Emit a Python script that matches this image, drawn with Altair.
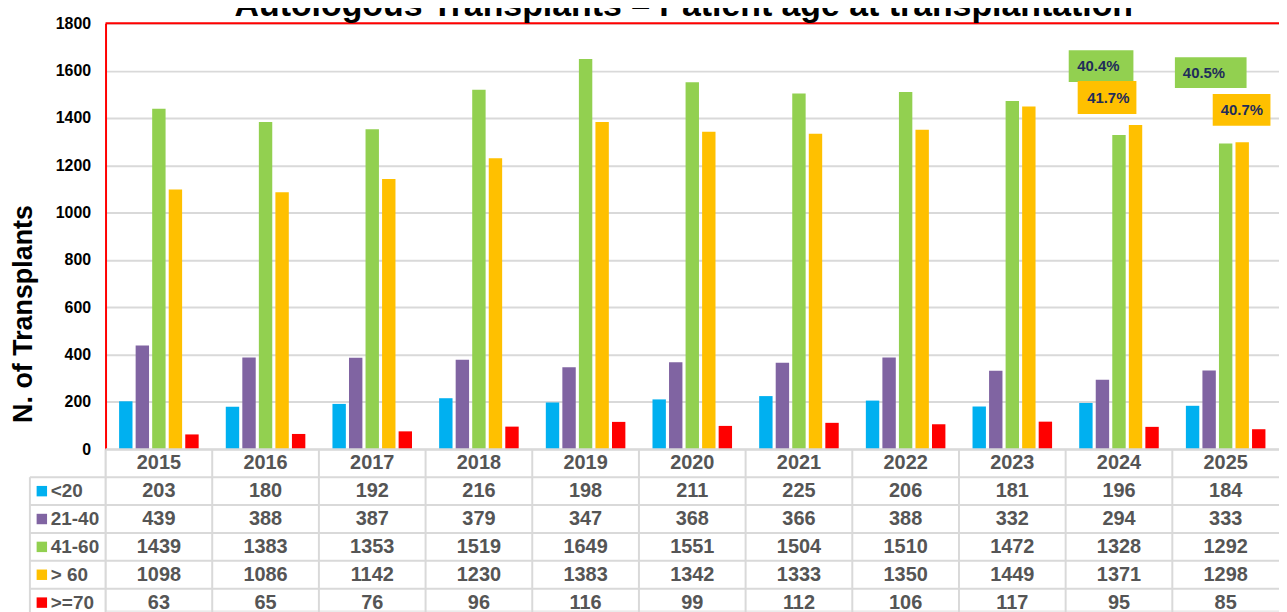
import altair as alt
import pandas as pd

# ---------------- data ----------------
years = [str(y) for y in range(2015, 2026)]
groups = ["<20", "21-40", "41-60", "> 60", ">=70"]
colors = ["#00B0F0", "#8064A2", "#92D050", "#FFC000", "#FF0000"]

v_lt20 = [203, 180, 192, 216, 198, 211, 225, 206, 181, 196, 184]
v_21_40 = [439, 388, 387, 379, 347, 368, 366, 388, 332, 294, 333]
v_41_60 = [1439, 1383, 1353, 1519, 1649, 1551, 1504, 1510, 1472, 1328, 1292]
v_gt60 = [1098, 1086, 1142, 1230, 1383, 1342, 1333, 1350, 1449, 1371, 1298]
v_ge70 = [63, 65, 76, 96, 116, 99, 112, 106, 117, 95, 85]

y_ticks = [0, 200, 400, 600, 800, 1000, 1200, 1400, 1600, 1800]

title_text = "Autologous Transplants \u2013 Patient age at transplantation"
y_title = "N. of Transplants"

ann_years = ["2024", "2024", "2025", "2025"]
ann_text = ["40.4%", "41.7%", "40.5%", "40.7%"]
ann_group = ["41-60", "> 60", "41-60", "> 60"]
ann_lo = [1552, 1417, 1527, 1367]
ann_hi = [1686, 1556, 1657, 1501]

# ---------------- tables ----------------
series = [v_lt20, v_21_40, v_41_60, v_gt60, v_ge70]
rows = []
for g, vals in zip(groups, series):
    for y, v in zip(years, vals):
        rows.append({"year": y, "group": g, "value": v})
df = pd.DataFrame(rows)
df_years = pd.DataFrame({"year": years, "row": ["hdr"] * len(years)})
df_groups = pd.DataFrame({"group": groups})
df_ann = pd.DataFrame({"year": ann_years, "text": ann_text, "group": ann_group,
                       "lo": ann_lo, "hi": ann_hi})

# ---------------- layout ----------------
FONT = "Liberation Sans"
W = 1179
PH = 428          # bar plot height
ROW = 28          # table row height
H = 590
GRID = "#d9d9d9"
TXT = "#555555"

xscale = alt.Scale(domain=years, paddingInner=0, paddingOuter=0)
yscale = alt.Scale(domain=[0, 1800], range=[PH, 0], nice=False, zero=True)
tscale = alt.Scale(domain=["hdr"] + groups, range=[PH, PH + 6 * ROW],
                   paddingInner=0, paddingOuter=0)
cscale = alt.Scale(domain=groups, range=colors)

base = alt.Chart(df)

bars = base.mark_bar().encode(
    x=alt.X("year:N", scale=xscale, axis=None),
    xOffset=alt.XOffset("group:N", scale=alt.Scale(domain=groups, paddingInner=0.19, paddingOuter=0.82)),
    y=alt.Y("value:Q", scale=yscale,
            axis=alt.Axis(values=y_ticks, format="d", grid=True, gridColor=GRID, gridWidth=2,
                          ticks=False, domainColor="#ff0000", domainWidth=2,
                          labelFont=FONT, labelFontSize=16, labelFontWeight="bold",
                          labelColor="black", labelPadding=15, title=None)),
    color=alt.Color("group:N", scale=cscale, legend=None),
)

top_rule = alt.Chart(df_years.head(1)).mark_rule(color="#ff0000", strokeWidth=2).encode(
    y=alt.value(0), x=alt.value(0), x2=alt.value(W)
)

# table grid
hdr_line = alt.Chart(df_years.head(1)).mark_rule(color=GRID, strokeWidth=2).encode(
    y=alt.Y("row:N", scale=tscale, axis=None, bandPosition=0),
    x=alt.value(0), x2=alt.value(W),
)
row_lines = alt.Chart(df_groups).mark_rule(color=GRID, strokeWidth=2).encode(
    y=alt.Y("group:N", scale=tscale, axis=None, bandPosition=0),
    x=alt.value(-76), x2=alt.value(W),
)
col_lines = alt.Chart(df_years).mark_rule(color=GRID, strokeWidth=2).encode(
    x=alt.X("year:N", scale=xscale, axis=None, bandPosition=0),
    y=alt.value(PH), y2=alt.value(PH + 6 * ROW),
)
left_line = alt.Chart(df_years.head(1)).mark_rule(color=GRID, strokeWidth=2).encode(
    x=alt.value(-76), y=alt.value(PH + ROW), y2=alt.value(PH + 6 * ROW),
)

# table text
nums = base.mark_text(font=FONT, fontSize=20, fontWeight="bold", color=TXT).encode(
    x=alt.X("year:N", scale=xscale, axis=None),
    y=alt.Y("group:N", scale=tscale, axis=None),
    text=alt.Text("value:Q", format="d"),
)
hdr = alt.Chart(df_years).mark_text(font=FONT, fontSize=20, fontWeight="bold", color=TXT).encode(
    x=alt.X("year:N", scale=xscale, axis=None),
    y=alt.Y("row:N", scale=tscale, axis=None),
    text="year:N",
)
labels = alt.Chart(df_groups).mark_text(font=FONT, fontSize=19, fontWeight="bold",
                                        color=TXT, align="left").encode(
    x=alt.value(-55),
    y=alt.Y("group:N", scale=tscale, axis=None),
    text="group:N",
)
swatches = alt.Chart(df_groups).mark_square(size=110, opacity=1).encode(
    x=alt.value(-64),
    y=alt.Y("group:N", scale=tscale, axis=None),
    color=alt.Color("group:N", scale=cscale, legend=None),
)

ytitle = alt.Chart(pd.DataFrame({"t": [y_title]})).mark_text(
    font=FONT, fontSize=27, fontWeight="bold", color="black", angle=270
).encode(x=alt.value(-82), y=alt.value(292), text="t:N")

title = alt.Chart(pd.DataFrame({"t": [title_text]})).mark_text(
    font=FONT, fontSize=34, fontWeight="bold", color="black", baseline="alphabetic"
).encode(x=alt.value(581), y=alt.value(-7), text="t:N")

# annotation boxes (width, center offset, text offset)
box_geo = [(65, -18, -42), (59, -12, -32), (72, -15, -43), (58, 16, -5)]
ann_layers = []
for i, (bw, cx, tx) in enumerate(box_geo):
    d = df_ann.iloc[[i]]
    ann_layers.append(
        alt.Chart(d).mark_bar(width=bw, xOffset=cx).encode(
            x=alt.X("year:N", scale=xscale, axis=None),
            y=alt.Y("lo:Q", scale=yscale, axis=None),
            y2="hi:Q",
            color=alt.Color("group:N", scale=cscale, legend=None),
        )
    )
    ann_layers.append(
        alt.Chart(d).transform_calculate(mid="(datum.lo + datum.hi) / 2").mark_text(
            font=FONT, fontSize=15, fontWeight="bold", color="#1F2D5A",
            align="left", dx=tx
        ).encode(
            x=alt.X("year:N", scale=xscale, axis=None),
            y=alt.Y("mid:Q", scale=yscale, axis=None),
            text="text:N",
        )
    )

chart = alt.layer(
    bars, top_rule, hdr_line, row_lines, col_lines, left_line,
    nums, hdr, labels, swatches, ytitle, title, *ann_layers
).resolve_scale(y="independent").properties(
    width=W, height=H,
    autosize=alt.AutoSizeParams(type="none"),
    padding={"left": 98, "top": 14, "right": 0, "bottom": 0},
).configure_view(stroke="transparent").configure(font=FONT)

chart.save("out.html", embed_options={"renderer": "svg", "actions": False})
